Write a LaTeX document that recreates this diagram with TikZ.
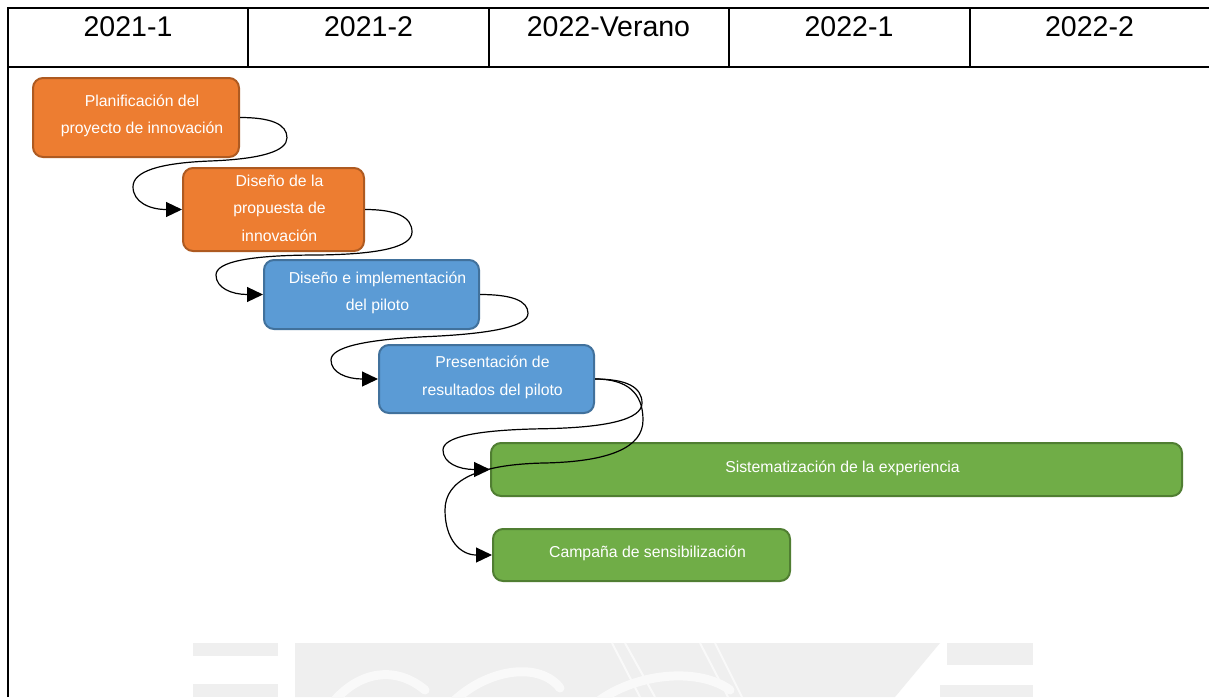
\documentclass[tikz,border=0pt]{standalone}
\usepackage{fontspec}
\setmainfont{Liberation Sans}
\usetikzlibrary{arrows.meta}
\definecolor{orfill}{HTML}{ED7D31}
\definecolor{ordraw}{HTML}{AE5A21}
\definecolor{blfill}{HTML}{5B9BD5}
\definecolor{bldraw}{HTML}{41719C}
\definecolor{grfill}{HTML}{70AD47}
\definecolor{grdraw}{HTML}{507E32}
\definecolor{wmgray}{HTML}{EFEFEF}

% curved connector (draw.io style): start anchor, end anchor, right x, right-turn y, left x, left-turn y (px)
\newcommand{\curveconn}[6]{%
  \path (#1); \pgfgetlastxy{\ccxa}{\ccya}%
  \path (#2); \pgfgetlastxy{\ccxb}{\ccyb}%
  \pgfmathsetmacro{\Sx}{\ccxa}\pgfmathsetmacro{\Sy}{-\ccya}%
  \pgfmathsetmacro{\Ex}{\ccxb}\pgfmathsetmacro{\Ey}{-\ccyb}%
  \pgfmathsetmacro{\May}{(\Sy+#4)/2}%
  \pgfmathsetmacro{\Mbx}{(#3+#5)/2}\pgfmathsetmacro{\Mby}{(#4+#6)/2}%
  \pgfmathsetmacro{\Mcy}{(#6+\Ey)/2}%
  \pgfmathsetmacro{\qa}{\Sx+2/3*(#3-\Sx)}%
  \pgfmathsetmacro{\qb}{\May+2/3*(\Sy-\May)}%
  \pgfmathsetmacro{\qc}{\May+2/3*(#4-\May)}%
  \pgfmathsetmacro{\qd}{\Mbx+2/3*(#3-\Mbx)}%
  \pgfmathsetmacro{\qe}{\Mby+2/3*(#4-\Mby)}%
  \pgfmathsetmacro{\qf}{\Mbx+2/3*(#5-\Mbx)}%
  \pgfmathsetmacro{\qg}{\Mby+2/3*(#6-\Mby)}%
  \pgfmathsetmacro{\qh}{\Mcy+2/3*(#6-\Mcy)}%
  \pgfmathsetmacro{\qi}{\Mcy+2/3*(\Ey-\Mcy)}%
  \pgfmathsetmacro{\qj}{\Ex+2/3*(#5-\Ex)}%
  \draw[conn] (#1) .. controls (\qa,\Sy) and (#3,\qb) .. (#3,\May)
     .. controls (#3,\qc) and (\qd,\qe) .. (\Mbx,\Mby)
     .. controls (\qf,\qg) and (#5,\qh) .. (#5,\Mcy)
     .. controls (#5,\qi) and (\qj,\Ey) .. (#2);
}

\begin{document}
\begin{tikzpicture}[x=1pt,y=-1pt,
  gridline/.style={line width=2pt, black},
  hdr/.style={font=\fontsize{28.5}{32}\selectfont, anchor=base, inner sep=0pt},
  taskbox/.style={rounded corners=10pt, line width=2pt, inner sep=0pt},
  orbox/.style={taskbox, fill=orfill, draw=ordraw},
  blbox/.style={taskbox, fill=blfill, draw=bldraw},
  grbox/.style={taskbox, fill=grfill, draw=grdraw},
  tasktext/.style={text=white, font=\fontsize{15.8}{27.5}\selectfont, align=center, inner sep=0pt, xshift=6pt, yshift=1.5pt},
  conn/.style={line width=1.2pt, black, -{Triangle[length=16pt,width=15pt]}},
  wm/.style={fill=wmgray},
  wmstroke/.style={white!60!wmgray, line width=9pt, line cap=round}
]
\useasboundingbox (0,0) rectangle (1209,697);
\fill[white] (0,0) rectangle (1209,697);

% faint watermark
\fill[wm] (193,643) rectangle (278,656);
\fill[wm] (193,684) rectangle (278,697);
\fill[wm] (295,643) -- (940,643) -- (895,697) -- (295,697) -- cycle;
\fill[wm] (947,643) rectangle (1033,665);
\fill[wm] (940,685) rectangle (1033,697);
\draw[wmstroke] (335,700) .. controls (360,672) and (395,665) .. (425,690);
\draw[wmstroke] (455,700) .. controls (490,668) and (540,662) .. (560,688);
\draw[wmstroke] (600,700) .. controls (640,672) and (700,668) .. (730,690);
\draw[white!60!wmgray, line width=2pt] (612,643) -- (640,697) (625,643) -- (655,697) (700,643) -- (728,697) (715,643) -- (742,697);

% header table
\draw[gridline] (7.5,697) -- (7.5,7.5) -- (1212,7.5);
\draw[gridline] (7.5,67) -- (1212,67);
\draw[gridline] (248,7.5) -- (248,67);
\draw[gridline] (488.5,7.5) -- (488.5,67);
\draw[gridline] (728.5,7.5) -- (728.5,67);
\draw[gridline] (970,7.5) -- (970,67);
\node[hdr] (h1) at (128,36) {2021-1};
\node[hdr] (h2) at (368.5,36) {2021-2};
\node[hdr] (h3) at (608.5,36) {2022-Verano};
\node[hdr] (h4) at (849,36) {2022-1};
\node[hdr] (h5) at (1089.5,36) {2022-2};

% task boxes
\node[orbox, minimum width=206pt, minimum height=79pt,
  label={[tasktext]center:Planificación del\\proyecto de innovación}] (b1) at (136,117.5) {};
\node[orbox, minimum width=181pt, minimum height=83pt,
  label={[tasktext]center:Diseño de la\\propuesta de\\innovación}] (b2) at (273.5,209.5) {};
\node[blbox, minimum width=215pt, minimum height=69pt,
  label={[tasktext]center:Diseño e implementación\\del piloto}] (b3) at (371.5,294.5) {};
\node[blbox, minimum width=215pt, minimum height=68pt,
  label={[tasktext]center:Presentación de\\resultados del piloto}] (b4) at (486.5,379) {};
\node[grbox, minimum width=691pt, minimum height=53pt,
  label={[tasktext]center:Sistematización de la experiencia}] (b5) at (836.5,469.5) {};

% connectors
\curveconn{b1.east}{b2.west}{287}{158}{133}{164}
\curveconn{b2.east}{b3.west}{412}{254.5}{216}{255.5}
\curveconn{b3.east}{b4.west}{528}{332}{331}{341}
\curveconn{b4.east}{b5.west}{642}{427}{443}{430.5}

\node[grbox, minimum width=297pt, minimum height=52pt,
  label={[tasktext]center:Campaña de sensibilización}] (b6) at (641.5,555) {};
\curveconn{b4.east}{b6.west}{643}{461}{445}{465}
\end{tikzpicture}
\end{document}
